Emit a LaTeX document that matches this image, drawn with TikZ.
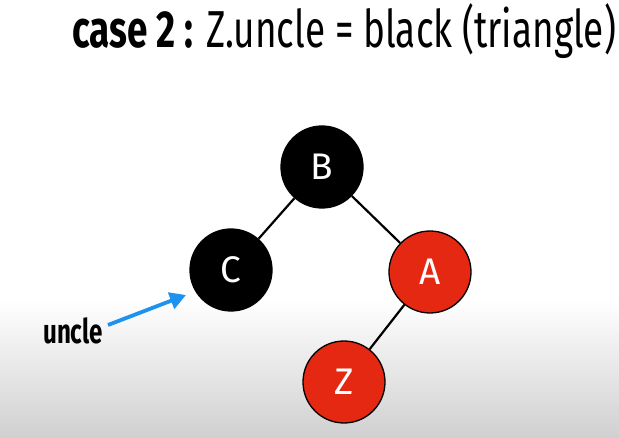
\documentclass[tikz,border=0pt]{standalone}
\usepackage{fontspec}
\setmainfont{Fira Sans}[FakeStretch=0.71]
\newfontfamily\labelfont{Fira Sans}
\usetikzlibrary{arrows.meta}
\definecolor{nodered}{RGB}{228,40,18}
\definecolor{arrowblue}{RGB}{30,146,240}
\definecolor{floorgray}{RGB}{208,208,208}
\tikzset{
  rbnode/.style={circle, draw=black, line width=1.3pt, minimum size=82pt, inner sep=0pt,
    text=white, font=\labelfont\fontsize{37}{37}\selectfont},
  blacknode/.style={rbnode, fill=black},
  rednode/.style={rbnode, fill=nodered},
  edge/.style={draw=black, line width=2.2pt},
  pointer/.style={draw=arrowblue, line width=3.8pt, -{Triangle[length=16pt,width=17pt]}}
}
\begin{document}
\begin{tikzpicture}[x=1pt,y=-1pt]
  \useasboundingbox (0,0) rectangle (619,438);
  % backdrop: white fading to grey near the bottom
  \fill[white] (0,0) rectangle (619,300);
  \shade[top color=white, bottom color=floorgray] (0,299) rectangle (619,438);

  % heading
  \node[anchor=base west, inner sep=0pt, font=\fontsize{52}{56}\selectfont] (title) at (72,48)
    {\textbf{case 2 :} Z.uncle = black (triangle)};

  % tree
  \node[blacknode] (B) at (322,167) {B};
  \node[blacknode] (C) at (231,270) {C};
  \node[rednode]   (A) at (430,272) {A};
  \node[rednode]   (Z) at (344,382) {Z};
  \draw[edge] (B) -- (C);
  \draw[edge] (B) -- (A);
  \draw[edge] (A) -- (Z);

  % uncle pointer
  \node[anchor=base west, inner sep=0pt, font=\bfseries\fontsize{34}{34}\selectfont] (uncle) at (43,344) {uncle};
  \coordinate (tip) at (186,295);
  \draw[pointer] (108,325) -- (tip);
\end{tikzpicture}
\end{document}
